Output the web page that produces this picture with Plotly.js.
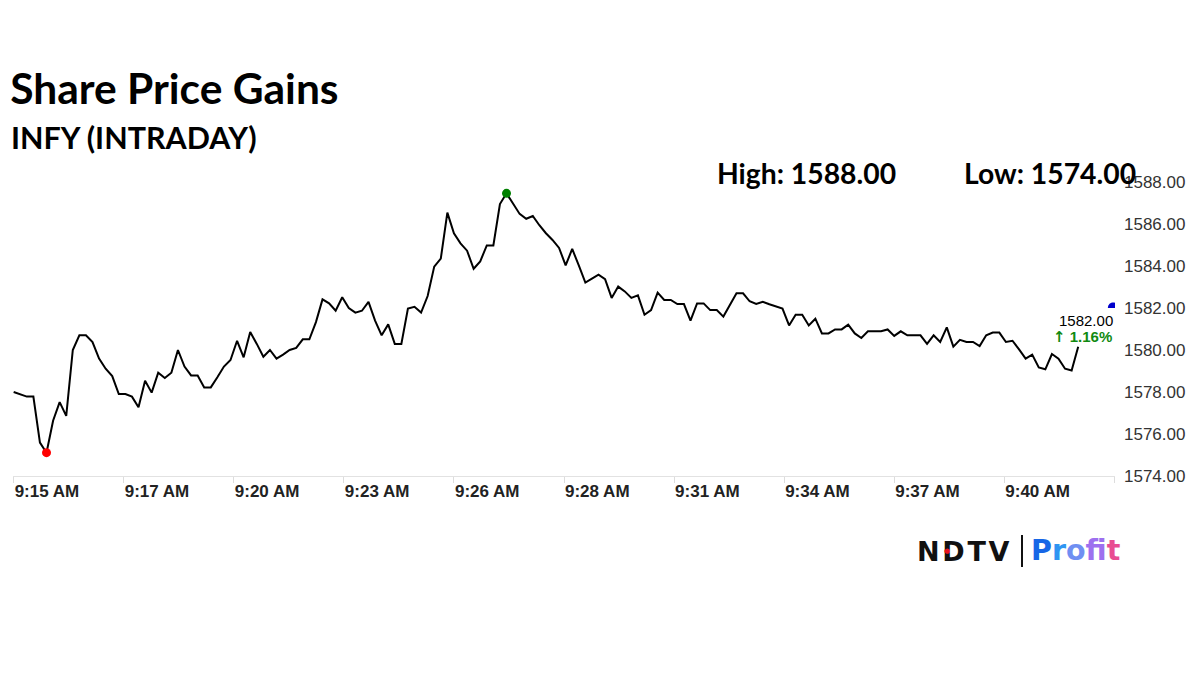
<!DOCTYPE html>
<html>
<head>
<meta charset="utf-8">
<script src="https://cdn.plot.ly/plotly-3.0.1.min.js"></script>
<style>
  html, body { margin: 0; padding: 0; background: #ffffff; }
  #chart { width: 1200px; height: 674px; }
</style>
</head>
<body>
<div id="chart"></div>
<script>
// ---------- data ----------
const chartTitle = 'Share Price Gains';
const chartSubtitle = 'INFY (INTRADAY)';
const symbol = 'INFY';
const dayHigh = 1588.00;
const dayLow = 1574.00;
const currentPrice = 1582.00;
const changePct = 1.16;
const startTime = '09:15:00';
const stepSeconds = 10;            // one price every 10 seconds
const prices = [
  1578.00, 1577.89, 1577.78, 1577.78, 1575.59, 1575.11, 1576.63, 1577.52, 1576.86, 1580.00,
  1580.70, 1580.70, 1580.38, 1579.59, 1579.11, 1578.76, 1577.90, 1577.90, 1577.78, 1577.27,
  1578.54, 1577.97, 1578.92, 1578.67, 1578.92, 1580.00, 1579.21, 1578.79, 1578.79,
  1578.22, 1578.22, 1578.70, 1579.21, 1579.52, 1580.44, 1579.65, 1580.86, 1580.29, 1579.68,
  1580.00, 1579.59, 1579.78, 1580.00, 1580.10, 1580.51, 1580.51, 1581.33, 1582.41, 1582.22,
  1581.87, 1582.51, 1582.00, 1581.78, 1581.87, 1582.29, 1581.40, 1580.70, 1581.22,
  1580.29, 1580.29, 1581.97, 1582.06, 1581.78, 1582.57, 1583.97, 1584.35, 1586.54, 1585.56,
  1585.08, 1584.73, 1583.87, 1584.22, 1584.98, 1584.98, 1586.95, 1587.46, 1586.98, 1586.48,
  1586.25, 1586.38, 1585.94, 1585.56, 1585.24, 1584.86, 1584.03, 1584.81, 1584.03,
  1583.21, 1583.40, 1583.59, 1583.37, 1582.48, 1583.02, 1582.79, 1582.48, 1582.60, 1581.68,
  1581.90, 1582.73, 1582.38, 1582.38, 1582.19, 1582.19, 1581.40, 1582.22, 1582.22, 1581.90,
  1581.90, 1581.59, 1582.16, 1582.70, 1582.70, 1582.32, 1582.19, 1582.30, 1582.18,
  1582.06, 1581.97, 1581.17, 1581.68, 1581.68, 1581.17, 1581.49, 1580.79, 1580.79, 1580.98,
  1580.98, 1581.21, 1580.79, 1580.57, 1580.89, 1580.89, 1580.89, 1580.98, 1580.67, 1580.89,
  1580.70, 1580.70, 1580.70, 1580.29, 1580.70, 1580.38, 1581.08, 1580.16, 1580.48,
  1580.38, 1580.38, 1580.19, 1580.70, 1580.83, 1580.83, 1580.38, 1580.44, 1580.03, 1579.59,
  1579.78, 1579.17, 1579.08, 1579.81, 1579.59, 1579.11, 1579.02, 1580.16
];
const timeLabels = ['9:15 AM', '9:17 AM', '9:20 AM', '9:23 AM', '9:26 AM',
                    '9:28 AM', '9:31 AM', '9:34 AM', '9:37 AM', '9:40 AM'];
const priceTicks = [1574, 1576, 1578, 1580, 1582, 1584, 1586, 1588];

// ---------- derived ----------
const base = Date.UTC(2024, 0, 1, +startTime.slice(0, 2), +startTime.slice(3, 5), +startTime.slice(6, 8));
const stepMs = stepSeconds * 1000;
const times = prices.map((_, i) => base + i * stepMs);
const tickSpacingMs = 167500;
const tickVals = [];
const tickText = [];
for (let k = 0; k <= timeLabels.length; k++) {
  tickVals.push(base + k * tickSpacingMs);
  tickText.push(k < timeLabels.length ? timeLabels[k] : ' ');
}
const axisEnd = tickVals[tickVals.length - 1];

let iMin = 0, iMax = 0;
prices.forEach((p, i) => { if (p < prices[iMin]) iMin = i; if (p > prices[iMax]) iMax = i; });
const iLast = prices.length - 1;

const traces = [
  {
    type: 'scatter', mode: 'lines', x: times, y: prices,
    line: { color: '#000000', width: 2 }, hoverinfo: 'skip', showlegend: false
  },
  {
    type: 'scatter', mode: 'markers', x: [times[iMin]], y: [prices[iMin]],
    marker: { color: '#ff0000', size: 9 }, showlegend: false, cliponaxis: false
  },
  {
    type: 'scatter', mode: 'markers', x: [times[iMax]], y: [prices[iMax]],
    marker: { color: '#008000', size: 9 }, showlegend: false, cliponaxis: false
  }
];

const profitColors = ['#1766e6', '#2f95f2', '#6f8ff2', '#9d70ef', '#cf5cdf', '#e84d92'];
const profitHtml = 'Profit'.split('').map((c, i) =>
  '<span style="color:' + profitColors[i] + '">' + c + '</span>').join('');
const hair = '\u200A';

const layout = {
  width: 1200, height: 674,
  paper_bgcolor: '#ffffff', plot_bgcolor: '#ffffff',
  margin: { l: 13, r: 85, t: 182, b: 198, pad: 0 },
  title: {
    text: chartTitle,
    font: { family: 'Lato, "Open Sans", sans-serif', size: 42.5, weight: 'bold', color: '#000000' },
    xref: 'container', yref: 'container', x: 0.0085, y: 1 - 89 / 674,
    xanchor: 'left', yanchor: 'middle'
  },
  xaxis: {
    type: 'date',
    range: [base - 1000, axisEnd + 1000],
    tickmode: 'array', tickvals: tickVals, ticktext: tickText,
    ticks: 'outside', ticklen: 6, tickcolor: '#dddddd', tickwidth: 1,
    ticklabelposition: 'outside right',
    showline: true, linecolor: '#e2e2e2', linewidth: 1,
    showgrid: false, zeroline: false,
    tickfont: { family: 'Arial, "Liberation Sans", sans-serif', size: 17, weight: 'bold', color: '#222222' }
  },
  yaxis: {
    range: [dayLow, dayHigh], side: 'right',
    tickmode: 'array', tickvals: priceTicks, tickformat: '.2f',
    ticks: '', showgrid: false, zeroline: false, showline: false,
    ticklabelstandoff: 8,
    tickfont: { family: 'Arial, "Liberation Sans", sans-serif', size: 17, color: '#333333' }
  },
  shapes: [
    {
      type: 'path', xref: 'x', yref: 'y', xsizemode: 'pixel', ysizemode: 'pixel',
      xanchor: axisEnd - 1500, yanchor: currentPrice,
      path: 'M -5.5 0 C -5.5 7.3 5.5 7.3 5.5 0 Z',
      fillcolor: '#0000cc', line: { width: 0 }, layer: 'above'
    }
  ],
  annotations: [
    {
      text: chartSubtitle, xref: 'paper', yref: 'paper',
      x: -0.004, y: (476 - 137) / 294, xanchor: 'left', yanchor: 'middle', showarrow: false,
      font: { family: 'Lato, "Open Sans", sans-serif', size: 30.5, weight: 'bold', color: '#000000' }
    },
    {
      text: 'High: ' + dayHigh.toFixed(2), xref: 'paper', yref: 'paper',
      x: (715 - 13) / 1102, y: (476 - 173) / 294, xanchor: 'left', yanchor: 'middle', showarrow: false,
      font: { family: 'Lato, "Open Sans", sans-serif', size: 28.3, weight: 'bold', color: '#000000' }
    },
    {
      text: 'Low: ' + dayLow.toFixed(2), xref: 'paper', yref: 'paper',
      x: (962 - 13) / 1102, y: (476 - 173) / 294, xanchor: 'left', yanchor: 'middle', showarrow: false,
      font: { family: 'Lato, "Open Sans", sans-serif', size: 28.3, weight: 'bold', color: '#000000' }
    },
    {
      text: currentPrice.toFixed(2), xref: 'x', yref: 'y',
      x: times[iLast], y: prices[iLast], xshift: 8, yshift: 26,
      xanchor: 'center', yanchor: 'middle', showarrow: false,
      font: { family: 'Arial, "Liberation Sans", sans-serif', size: 15, color: '#000000' }
    },
    {
      text: '<span style="font-family:\'DejaVu Sans\'">\u2191</span> ' + changePct.toFixed(2) + '%', xref: 'x', yref: 'y',
      x: times[iLast], y: prices[iLast], xshift: 4, yshift: 10,
      xanchor: 'center', yanchor: 'middle', showarrow: false,
      font: { family: 'Arial, "Liberation Sans", sans-serif', size: 15, weight: 'bold', color: '#108a10' }
    },
    {
      text: 'N' + hair + 'D' + hair + 'T' + hair + 'V', xref: 'paper', yref: 'paper',
      x: (915 - 13) / 1102, y: (476 - 551) / 294, xanchor: 'left', yanchor: 'middle', showarrow: false,
      font: { family: '"DejaVu Sans", sans-serif', size: 27, weight: 'bold', color: '#111111' }
    },
    {
      text: '\u25CF', xref: 'paper', yref: 'paper',
      x: (947 - 13) / 1102, y: (476 - 551) / 294, xanchor: 'center', yanchor: 'middle', showarrow: false,
      font: { family: '"DejaVu Sans", sans-serif', size: 7, color: '#e8141c' }
    },
    {
      text: profitHtml, xref: 'paper', yref: 'paper',
      x: (1029 - 13) / 1102, y: (476 - 550) / 294, xanchor: 'left', yanchor: 'middle', showarrow: false,
      font: { family: '"DejaVu Sans", sans-serif', size: 28.5, weight: 'bold', color: '#1766e6' }
    }
  ]
};
layout.shapes.push({
  type: 'line', xref: 'paper', yref: 'paper',
  x0: (1022 - 13) / 1102, x1: (1022 - 13) / 1102,
  y0: (476 - 535) / 294, y1: (476 - 567) / 294,
  line: { color: '#111111', width: 2 }
});

Plotly.newPlot('chart', traces, layout, { displayModeBar: false, staticPlot: true });
</script>
</body>
</html>
